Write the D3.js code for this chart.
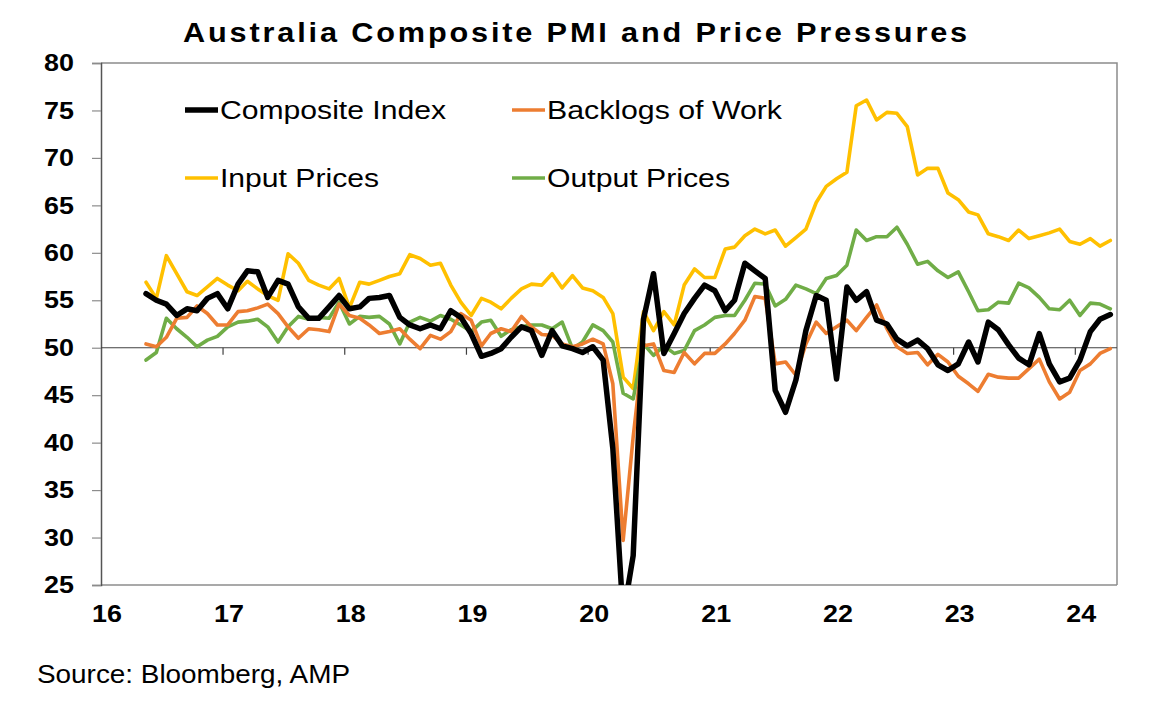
<!DOCTYPE html>
<html>
<head>
<meta charset="utf-8">
<script src="https://cdn.jsdelivr.net/npm/d3@7"></script>
<style>
    body { margin: 0; background: #fff; }
    text { font-family: "Liberation Sans", Arial, sans-serif; }
</style>
</head>
<body>
<pmi-chart></pmi-chart>
<script>
// monthly readings, May 2016 .. Apr 2024
const startMonth = new Date(2016, 4, 1);
const endMonth = new Date(2024, 4, 1);
const months = d3.timeMonth.range(startMonth, endMonth);

const composite = [
    55.7, 55.0, 54.6, 53.4, 54.1, 53.9, 55.2, 55.7, 54.1, 56.7, 58.1, 58.0,
    55.3, 57.1, 56.7, 54.3, 53.1, 53.1, 54.3, 55.5, 54.1, 54.3, 55.2, 55.3,
    55.5, 53.2, 52.4, 52.0, 52.4, 52.0, 53.9, 53.2, 51.5, 49.1, 49.4, 49.9,
    51.1, 52.2, 51.8, 49.2, 51.8, 50.2, 49.9, 49.5, 50.1, 48.7, 39.4, 21.7,
    28.1, 53.0, 57.8, 49.4, 51.5, 53.6, 55.2, 56.6, 56.0, 53.9, 55.0, 58.9,
    58.1, 57.3, 45.5, 43.2, 46.6, 51.8, 55.5, 55.0, 46.7, 56.4, 55.0, 55.9,
    52.9, 52.5, 50.9, 50.2, 50.8, 49.9, 48.2, 47.6, 48.3, 50.6, 48.5, 52.7,
    51.9, 50.3, 48.9, 48.2, 51.5, 48.3, 46.4, 46.8, 48.7, 51.7, 53.0, 53.5
];
const backlogs = [
    50.4, 50.1, 51.1, 53.1, 53.2, 54.4, 53.6, 52.4, 52.4, 53.8, 53.9, 54.2,
    54.6, 53.6, 52.2, 51.0, 52.0, 51.9, 51.7, 54.6, 53.4, 53.1, 52.4, 51.5,
    51.7, 52.0, 50.9, 49.9, 51.3, 50.9, 51.7, 53.6, 52.9, 50.2, 51.5, 52.0,
    51.7, 53.3, 52.2, 51.4, 51.3, 50.4, 50.1, 50.4, 50.9, 50.4, 46.2, 29.7,
    40.6, 50.2, 50.4, 47.6, 47.4, 49.5, 48.3, 49.4, 49.4, 50.4, 51.5, 52.9,
    55.4, 55.2, 48.3, 48.5, 47.1, 50.4, 52.7, 51.5, 52.2, 52.9, 51.8, 53.2,
    54.5, 52.0, 50.1, 49.4, 49.5, 48.2, 49.3, 48.5, 47.0, 46.2, 45.4, 47.2,
    46.9, 46.8, 46.8, 47.8, 48.8, 46.4, 44.6, 45.3, 47.6, 48.3, 49.4, 49.9
];
const inputPrices = [
    56.9, 55.2, 59.7, 57.8, 55.9, 55.5, 56.4, 57.3, 56.6, 56.0, 57.0, 56.2,
    55.5, 55.0, 59.9, 58.9, 57.1, 56.6, 56.2, 57.3, 54.2, 56.9, 56.7, 57.1,
    57.5, 57.8, 59.8, 59.4, 58.7, 58.9, 56.6, 54.8, 53.4, 55.2, 54.8, 54.1,
    55.2, 56.2, 56.7, 56.6, 57.8, 56.3, 57.6, 56.3, 56.0, 55.3, 53.6, 46.9,
    45.7, 53.8, 51.8, 53.8, 52.4, 56.6, 58.3, 57.4, 57.4, 60.4, 60.6, 61.8,
    62.5, 62.0, 62.4, 60.7, 61.6, 62.5, 65.3, 67.0, 67.8, 68.5, 75.5, 76.1,
    74.0, 74.8, 74.7, 73.3, 68.2, 68.9, 68.9, 66.3, 65.6, 64.3, 64.0, 62.0,
    61.7, 61.3, 62.4, 61.5, 61.8, 62.1, 62.5, 61.2, 60.9, 61.5, 60.7, 61.3
];
const outputPrices = [
    48.7, 49.5, 53.1, 52.0, 51.1, 50.1, 50.8, 51.2, 52.2, 52.7, 52.8, 53.0,
    52.2, 50.6, 52.2, 53.3, 53.0, 53.2, 53.1, 54.8, 52.5, 53.3, 53.2, 53.3,
    52.5, 50.4, 52.7, 53.2, 52.8, 53.4, 53.0, 52.4, 51.7, 52.7, 52.9, 51.2,
    51.9, 52.2, 52.4, 52.4, 52.0, 52.7, 49.9, 50.6, 52.4, 51.8, 50.6, 45.2,
    44.6, 50.4, 49.2, 50.2, 49.4, 49.7, 51.8, 52.4, 53.2, 53.4, 53.4, 55.0,
    56.8, 56.7, 54.4, 55.1, 56.6, 56.2, 55.7, 57.3, 57.6, 58.7, 62.4, 61.3,
    61.7, 61.7, 62.7, 60.9, 58.8, 59.1, 58.1, 57.4, 58.0, 55.9, 53.9, 54.0,
    54.8, 54.7, 56.8, 56.3, 55.3, 54.1, 54.0, 55.0, 53.4, 54.7, 54.6, 54.1
];

const seriesNames = ['Composite Index', 'Backlogs of Work', 'Input Prices', 'Output Prices'];
const seriesValues = [composite, backlogs, inputPrices, outputPrices];
const seriesColors = ['#000000', '#ED7D31', '#FFC000', '#70AD47'];

const yTicks = [25, 30, 35, 40, 45, 50, 55, 60, 65, 70, 75, 80];
const yearTicks = [2016, 2017, 2018, 2019, 2020, 2021, 2022, 2023, 2024];
const yearLabels = ['16', '17', '18', '19', '20', '21', '22', '23', '24'];

const titleText = 'Australia Composite PMI and Price Pressures';
const sourceText = 'Source: Bloomberg, AMP';

class PmiChart extends HTMLElement {
    constructor() {
        super();

        this.width = 1150;
        this.height = 710;
        this.margin = { top: 63, right: 33, bottom: 125, left: 101 };

        this.svg = d3.select(this).append('svg')
            .attr('width', this.width)
            .attr('height', this.height)
            .style('display', 'block');

        this.x = d3.scaleTime()
            .domain([new Date(2016, 0, 1), new Date(2024, 4, 5)])
            .range([this.margin.left, this.width - this.margin.right]);

        this.y = d3.scaleLinear()
            .domain([25, 80])
            .range([this.height - this.margin.bottom, this.margin.top]);
    }
    //_________________________________________________________________
    //
    connectedCallback() {
        this.#drawFrame();
        this.#drawLines();
        this.#drawLegend();
        this.#drawTexts();
    }
    //_________________________________________________________________
    //
    #stretch(sel, k) {
        sel.each(function () {
            const w = this.getComputedTextLength();
            d3.select(this).attr('textLength', w * k).attr('lengthAdjust', 'spacingAndGlyphs');
        });
    }
    //_________________________________________________________________
    //
    #drawFrame() {
        const [x0, x1] = this.x.range();
        const [y0, y1] = this.y.range();

        // top and right border
        this.svg.append('path')
            .attr('d', `M${x0},${y1}H${x1}V${y0}`)
            .attr('fill', 'none')
            .attr('stroke', '#8c8c8c')
            .attr('stroke-width', 1.5);

        this.svg.append('line')
            .attr('x1', x0).attr('x2', x1)
            .attr('y1', y0).attr('y2', y0)
            .attr('stroke', '#8c8c8c')
            .attr('stroke-width', 1.5);

        const yAxis = this.svg.append('g')
            .attr('transform', `translate(${x0},0)`)
            .call(d3.axisLeft(this.y).tickValues(yTicks).tickSize(9).tickPadding(18));

        yAxis.select('.domain').attr('stroke', '#555').attr('stroke-width', 1.5);
        yAxis.selectAll('.tick line').attr('stroke', '#8c8c8c').attr('stroke-width', 1.2);
        yAxis.selectAll('.tick text')
            .attr('font-size', 24)
            .attr('font-weight', 'bold')
            .attr('fill', '#000');
        this.#stretch(yAxis.selectAll('.tick text'), 1.12);

        // 50 line with year ticks
        const y50 = this.y(50);
        this.svg.append('line')
            .attr('x1', x0).attr('x2', x1)
            .attr('y1', y50).attr('y2', y50)
            .attr('stroke', '#404040')
            .attr('stroke-width', 1.2);

        this.svg.append('g')
            .selectAll('line')
            .data(yearTicks.slice(1))
            .join('line')
            .attr('x1', d => this.x(new Date(d, 0, 1)))
            .attr('x2', d => this.x(new Date(d, 0, 1)))
            .attr('y1', y50)
            .attr('y2', y50 + 7)
            .attr('stroke', '#404040')
            .attr('stroke-width', 1.2);

        const xl = this.svg.append('g')
            .selectAll('text')
            .data(yearTicks)
            .join('text')
            .attr('x', d => this.x(new Date(d, 0, 1)) + 6)
            .attr('y', 622)
            .attr('text-anchor', 'middle')
            .attr('font-size', 24)
            .attr('font-weight', 'bold')
            .text((d, i) => yearLabels[i]);
        this.#stretch(xl, 1.12);
    }
    //_________________________________________________________________
    //
    #drawLines() {
        const [x0, x1] = this.x.range();
        const [y0, y1] = this.y.range();

        this.svg.append('clipPath')
            .attr('id', 'plot-clip')
            .append('rect')
            .attr('x', x0).attr('y', y1)
            .attr('width', x1 - x0).attr('height', y0 - y1);

        const line = d3.line()
            .x((d, i) => this.x(d3.timeDay.offset(months[i], 14)))
            .y(d => this.y(d));

        // black goes on top
        const order = [2, 3, 1, 0];
        this.svg.append('g')
            .attr('clip-path', 'url(#plot-clip)')
            .selectAll('path')
            .data(order)
            .join('path')
            .attr('d', k => line(seriesValues[k]))
            .attr('fill', 'none')
            .attr('stroke', k => seriesColors[k])
            .attr('stroke-width', k => k === 0 ? 5.5 : 3.6)
            .attr('stroke-linejoin', 'round')
            .attr('stroke-linecap', 'round');
    }
    //_________________________________________________________________
    //
    #drawLegend() {
        const pos = [
            { x: 185, y: 110, w: 226 },
            { x: 512, y: 110, w: 235 },
            { x: 185, y: 178, w: 159 },
            { x: 512, y: 178, w: 183 }
        ];

        const item = this.svg.append('g')
            .selectAll('g')
            .data(seriesNames)
            .join('g')
            .attr('transform', (d, i) => `translate(${pos[i].x},${pos[i].y})`);

        item.append('line')
            .attr('x1', 0).attr('x2', 33)
            .attr('stroke', (d, i) => seriesColors[i])
            .attr('stroke-width', (d, i) => i === 0 ? 5.5 : 3.6);

        item.append('text')
            .attr('x', 35)
            .attr('y', 9)
            .attr('font-size', 25)
            .attr('textLength', (d, i) => pos[i].w)
            .attr('lengthAdjust', 'spacingAndGlyphs')
            .text(d => d);
    }
    //_________________________________________________________________
    //
    #drawTexts() {
        this.svg.append('text')
            .attr('x', 183)
            .attr('y', 42)
            .attr('font-size', 27)
            .attr('font-weight', 'bold')
            .attr('letter-spacing', 2.5)
            .attr('textLength', 787)
            .attr('lengthAdjust', 'spacingAndGlyphs')
            .text(titleText);

        this.svg.append('text')
            .attr('x', 37)
            .attr('y', 683)
            .attr('font-size', 25)
            .attr('textLength', 313)
            .attr('lengthAdjust', 'spacingAndGlyphs')
            .text(sourceText);
    }
    //_________________________________________________________________
    //
    static define(tag = 'pmi-chart') {
        customElements.define(tag, this);
    }
}

PmiChart.define();
</script>
</body>
</html>
